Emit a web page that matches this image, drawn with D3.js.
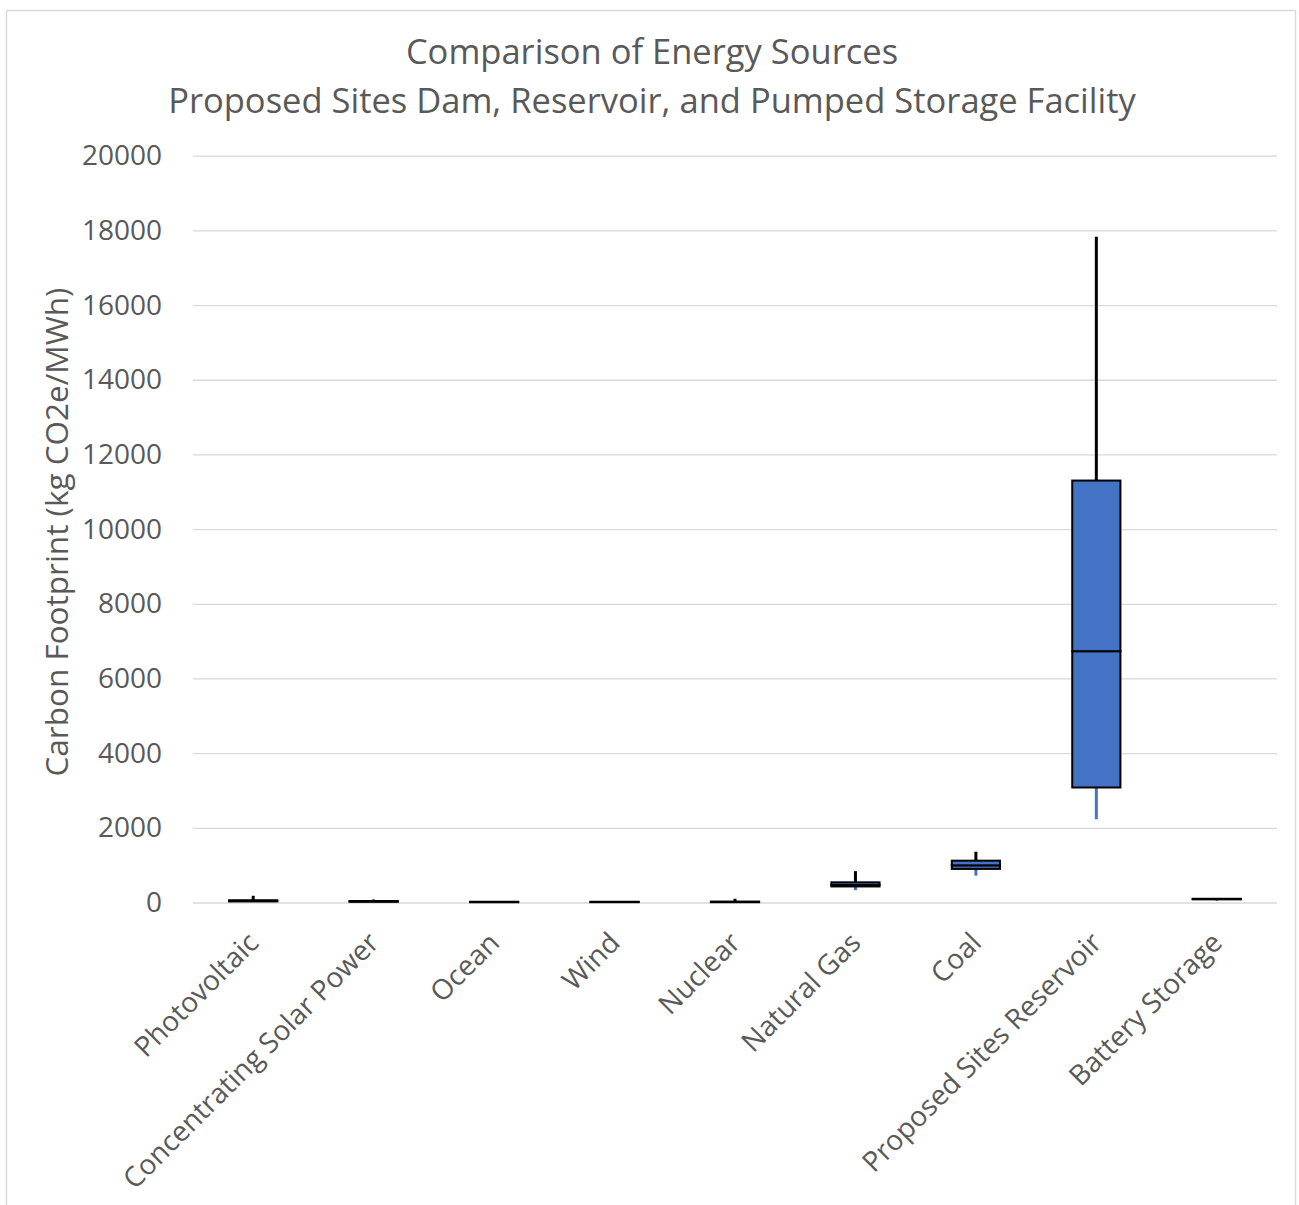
<!DOCTYPE html>
<html>
<head>
<meta charset="utf-8">
<script src="https://cdn.jsdelivr.net/npm/d3@7/dist/d3.min.js"></script>
<style>
  html, body { margin: 0; padding: 0; background: #fff; }
  svg { display: block; }
  text { font-family: "Open Sans", Lato, sans-serif; fill: #595959; }
</style>
</head>
<body>
<svg id="chart" width="1299" height="1205"></svg>
<script>
// Carbon footprint box-plot statistics per energy source (kg CO2e/MWh)
const categories = [
  "Photovoltaic", "Concentrating Solar Power", "Ocean", "Wind", "Nuclear",
  "Natural Gas", "Coal", "Proposed Sites Reservoir", "Battery Storage"
];
const minValues    = [14, 10, 6, 5, 4, 330, 720, 2230, 50];
const q1Values     = [29, 20, 8, 10, 9, 430, 900, 3080, 85];
const medianValues = [43, 28, 12, 12, 12, 470, 995, 6730, 92];
const q3Values     = [60, 40, 20, 20, 25, 540, 1120, 11300, 100];
const maxValues    = [180, 80, 23, 40, 100, 840, 1360, 17830, 105];
const yTicks = [0, 2000, 4000, 6000, 8000, 10000, 12000, 14000, 16000, 18000, 20000];

const titleLines = ["Comparison of Energy Sources", "Proposed Sites Dam, Reservoir, and Pumped Storage Facility"];
const yAxisTitle = "Carbon Footprint (kg CO2e/MWh)";

const boxFill = "#4472C4";
const font = "'Open Sans', Lato, sans-serif";

const svg = d3.select("#chart");

// chart frame
svg.append("rect")
  .attr("x", 6.5).attr("y", 10.5)
  .attr("width", 1289).attr("height", 1220)
  .attr("fill", "none").attr("stroke", "#d9d9d9").attr("stroke-width", 1.5);

const plot = { left: 193, right: 1277, top: 155.7, bottom: 902.5 };

const x = d3.scaleBand().domain(categories).range([plot.left, plot.right]).padding(0);
const y = d3.scaleLinear().domain([0, 20000]).range([plot.bottom, plot.top]);

// title
svg.append("g").selectAll("text").data(titleLines).join("text")
  .attr("x", 652).attr("y", (d, i) => 64 + i * 49)
  .attr("text-anchor", "middle")
  .attr("font-size", 34.5)
  .text(d => d);

// gridlines + y axis labels
const yAxis = d3.axisLeft(y).tickValues(yTicks)
  .tickSize(-(plot.right - plot.left)).tickPadding(31).tickFormat(d3.format("d"));
const gy = svg.append("g").attr("transform", `translate(${plot.left},0)`).call(yAxis);
gy.select(".domain").remove();
gy.selectAll(".tick line").attr("stroke", "#d9d9d9").attr("stroke-width", 1.3);
gy.selectAll(".tick text").attr("font-size", 28).attr("fill", "#595959")
  .attr("font-family", font);

// y axis title
svg.append("text")
  .attr("transform", `translate(68,${(plot.top + plot.bottom) / 2 + 3}) rotate(-90)`)
  .attr("text-anchor", "middle")
  .attr("font-size", 31.5)
  .text(yAxisTitle);

// category labels, rotated
const xAxis = d3.axisBottom(x).tickSize(0).tickPadding(0);
const gx = svg.append("g").attr("transform", `translate(0,${plot.bottom})`).call(xAxis);
gx.select(".domain").remove();
gx.selectAll(".tick text")
  .attr("font-size", 28).attr("fill", "#595959")
  .attr("font-family", font)
  .attr("text-anchor", "end")
  .attr("dy", null)
  .attr("transform", "translate(7,42) rotate(-45)");

// box plots
const rows = categories.map((c, i) => ({
  cat: c, min: minValues[i], q1: q1Values[i], med: medianValues[i], q3: q3Values[i], max: maxValues[i]
}));
const boxW = x.bandwidth() * 0.4;
const g = svg.append("g");
const cx = d => x(d.cat) + x.bandwidth() / 2;

// lower whisker (blue), drawn beneath the box
g.selectAll(".wlo").data(rows).join("line")
  .attr("x1", cx).attr("x2", cx)
  .attr("y1", d => y(d.q1)).attr("y2", d => y(d.min))
  .attr("stroke", boxFill).attr("stroke-width", 3);

// upper whisker (black)
g.selectAll(".whi").data(rows).join("line")
  .attr("x1", cx).attr("x2", cx)
  .attr("y1", d => y(d.q3)).attr("y2", d => y(d.max))
  .attr("stroke", "#000").attr("stroke-width", 3);

// lower half of box (Q1 to median)
g.selectAll(".blo").data(rows).join("rect")
  .attr("x", d => cx(d) - boxW / 2).attr("width", boxW)
  .attr("y", d => y(d.med)).attr("height", d => y(d.q1) - y(d.med))
  .attr("fill", boxFill).attr("stroke", "#000").attr("stroke-width", 2);

// upper half of box (median to Q3)
g.selectAll(".bhi").data(rows).join("rect")
  .attr("x", d => cx(d) - boxW / 2).attr("width", boxW)
  .attr("y", d => y(d.q3)).attr("height", d => y(d.med) - y(d.q3))
  .attr("fill", boxFill).attr("stroke", "#000").attr("stroke-width", 2);
</script>
</body>
</html>
